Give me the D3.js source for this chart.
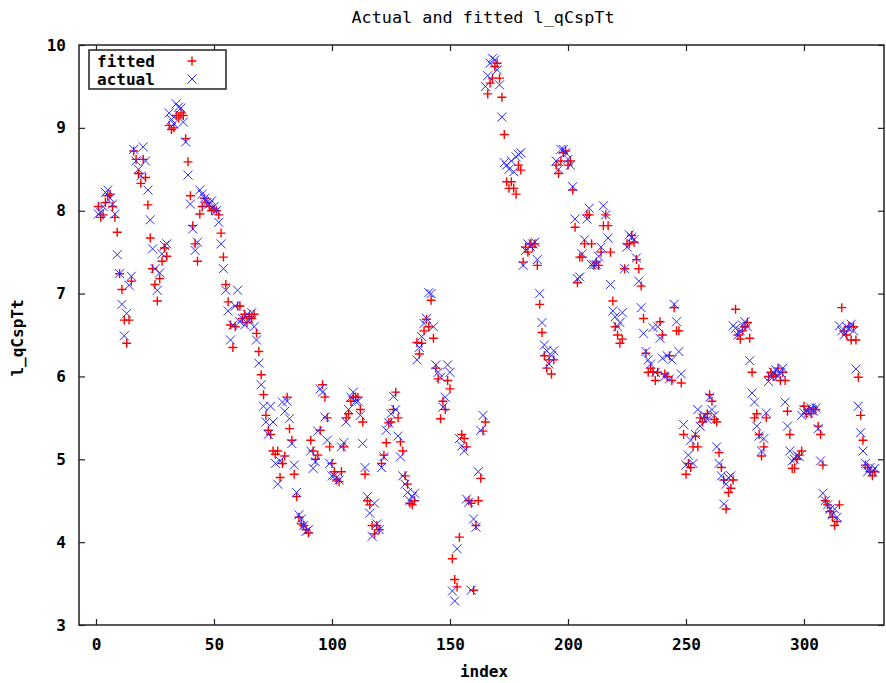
<!DOCTYPE html>
<html>
<head>
<meta charset="utf-8">
<script src="https://cdn.jsdelivr.net/npm/d3@7"></script>
<style>
  body { margin: 0; background: #fff; }
  text { font-family: "DejaVu Sans Mono", "Liberation Mono", monospace; }
</style>
</head>
<body>
<svg id="chart" width="886" height="683"></svg>
<script>
// values, index 1..330
const actual = [
  7.96, 7.98, 8.05, 8.22, 8.25, 8.15, 8.08, 7.96, 7.47, 7.24,
  6.87, 6.49, 6.76, 7.1, 7.21, 8.74, 8.6, 8.5, 8.42, 8.77,
  8.6, 8.25, 7.89, 7.54, 7.3, 7.04, 7.25, 7.48, 7.58, 7.6,
  9.18, 9.1, 9.05, 9.29, 9.25, 9.24, 9.07, 8.83, 8.43, 8.08,
  7.78, 7.52, 7.62, 8.25, 8.2, 8.15, 8.1, 8.08, 8.12, 8.05,
  8.0, 7.86, 7.6, 7.3, 7.04, 6.79, 6.44, 6.62, 6.85, 7.04,
  6.66, 6.7, 6.62, 6.75, 6.68, 6.77, 6.6, 6.44, 6.16, 5.9,
  5.64, 5.45, 5.3, 5.64, 5.45, 4.95, 4.7, 4.98, 5.69, 5.58,
  5.7, 5.49, 5.19, 4.93, 4.6, 4.33, 4.28, 4.2, 4.13, 4.15,
  5.1, 4.89, 4.97, 5.34, 5.85, 5.81, 5.51, 5.23, 4.95, 4.8,
  4.8, 4.78, 4.75, 5.15, 5.2, 5.45, 5.6, 5.75, 5.81, 5.7,
  5.7, 5.53, 5.19, 4.9, 4.55, 4.35, 4.07, 4.47, 4.22, 4.15,
  4.9, 5.03, 5.35, 5.44, 5.55, 5.76, 5.6, 5.28, 5.03, 4.8,
  4.7, 4.6, 4.5, 4.55, 4.59, 6.2, 6.35, 6.48, 6.64, 6.7,
  7.01, 7.0, 6.6, 6.14, 6.05, 5.99, 5.63, 5.75, 6.14, 6.05,
  3.41, 3.29, 3.92, 5.25, 5.16, 5.1, 4.52, 4.48, 3.42, 4.28,
  4.18, 4.85, 5.35, 5.53, 9.5, 9.63, 9.78, 9.84, 9.82, 9.7,
  9.52, 9.13, 8.58, 8.55, 8.5, 8.6, 8.47, 8.65, 8.68, 8.7,
  7.34, 7.52, 7.6, 7.57, 7.6, 7.62, 7.41, 7.0, 6.65, 6.38,
  6.31, 6.15, 6.25, 6.31, 8.6, 8.5, 8.74, 8.74, 8.7, 8.62,
  8.55, 8.29, 7.9, 7.18, 7.2, 7.48, 7.65, 7.9, 8.03, 7.35,
  7.35, 7.35, 7.45, 7.56, 8.06, 7.95, 7.67, 7.11, 6.79, 6.72,
  6.6, 6.65, 6.77, 7.3, 7.56, 7.71, 7.68, 7.65, 7.43, 7.15,
  6.83, 6.52, 6.3, 6.2, 6.15, 6.59, 6.05, 6.6, 6.46, 6.22,
  6.0, 6.25, 5.97, 6.2, 6.87, 6.66, 6.3, 6.03, 5.42, 4.93,
  5.05, 5.23, 4.95, 5.3, 5.6, 5.4, 5.5, 5.53, 5.48, 5.75,
  5.6, 5.53, 5.15, 4.95, 4.8, 4.46, 4.7, 4.78, 4.8, 6.61,
  6.58, 6.5, 6.55, 6.62, 6.66, 6.6, 6.19, 5.8, 5.69, 5.4,
  5.28, 5.1, 5.25, 5.56, 5.94, 6.0, 6.05, 6.08, 6.0, 6.05,
  6.1, 5.69, 5.4, 5.1, 4.98, 5.0, 5.05, 5.03, 5.53, 5.56,
  5.6, 5.56, 5.62, 5.58, 5.62, 5.37, 4.98, 4.59, 4.5, 4.45,
  4.4, 4.33, 4.4, 4.3, 6.61, 6.55, 6.5, 6.6, 6.58, 6.63,
  6.55, 6.09, 5.64, 5.32, 5.1, 4.95, 4.85, 4.9, 4.85, 4.89
];

const fitted = [
  8.05, 7.92, 7.95, 8.1, 8.18, 8.2, 8.05, 7.92, 7.74, 7.24,
  7.05, 6.68, 6.4, 6.68, 7.15, 8.72, 8.62, 8.45, 8.33, 8.62,
  8.4, 8.07, 7.67, 7.3, 7.11, 6.91, 7.18, 7.39, 7.55, 7.45,
  9.03, 8.98, 9.0, 9.15, 9.12, 9.18, 9.15, 8.87, 8.59, 8.18,
  7.82, 7.6, 7.39, 7.96, 8.05, 8.15, 8.1, 8.05, 8.0, 8.02,
  8.0, 7.95, 7.73, 7.44, 7.11, 6.9, 6.62, 6.35, 6.6, 6.85,
  6.85, 6.7, 6.75, 6.65, 6.72, 6.7, 6.75, 6.52, 6.3, 6.02,
  5.78, 5.53, 5.35, 5.3, 5.1, 5.06, 5.1, 4.78, 4.95, 5.04,
  5.75, 5.37, 5.23, 4.82, 4.55, 4.3, 4.22, 4.2, 4.15, 4.11,
  5.23, 5.1, 5.0, 5.05, 5.35, 5.9, 5.75, 5.5, 5.15, 4.95,
  4.85, 4.75, 4.73, 4.85, 5.15, 5.5, 5.55, 5.7, 5.75, 5.75,
  5.75, 5.6, 5.45, 4.82, 4.5, 4.45, 4.2, 4.1, 4.2, 4.15,
  4.95, 5.05, 5.2, 5.44, 5.45, 5.6, 5.81, 5.5, 5.21, 5.1,
  4.8, 4.7, 4.47, 4.45, 4.5, 6.41, 6.27, 6.4, 6.55, 6.69,
  6.6, 6.92, 6.46, 6.1, 5.97, 5.49, 5.7, 5.6, 5.95, 5.85,
  3.8, 3.55, 3.46, 4.06, 5.3, 5.25, 5.15, 4.5, 4.47, 3.42,
  4.2, 4.5, 4.77, 5.34, 5.45, 9.41, 9.54, 9.6, 9.74, 9.78,
  9.6, 9.37, 8.92, 8.35, 8.27, 8.35, 8.27, 8.2, 8.55, 8.49,
  7.38, 7.56, 7.5, 7.6, 7.56, 7.6, 7.34, 6.87, 6.53, 6.25,
  6.1, 6.2, 6.03, 6.2, 8.55, 8.45, 8.6, 8.7, 8.72, 8.55,
  8.6, 8.25, 7.8, 7.13, 7.44, 7.44, 7.6, 7.95, 7.95, 7.6,
  7.34, 7.38, 7.34, 7.5, 7.82, 7.95, 7.82, 7.5, 6.91, 6.6,
  6.5, 6.4, 6.45, 7.3, 7.6, 7.6, 7.7, 7.62, 7.41, 7.3,
  7.09, 6.7, 6.28, 6.05, 6.1, 6.05, 5.95, 6.05, 6.66, 6.5,
  6.03, 6.0, 6.25, 5.95, 6.83, 6.55, 6.55, 5.92, 5.3, 4.82,
  4.95, 4.9, 5.15, 5.28, 5.15, 5.5, 5.45, 5.5, 5.55, 5.78,
  5.7, 5.48, 5.45, 5.08, 4.9, 4.75, 4.4, 4.6, 4.65, 4.75,
  6.81, 6.5, 6.45, 6.55, 6.6, 6.65, 6.46, 6.05, 5.5, 5.55,
  5.3, 5.04, 5.15, 5.5, 6.0, 6.05, 6.0, 6.02, 6.1, 5.95,
  6.05, 5.95, 5.58, 5.3, 4.89, 4.89, 5.0, 5.05, 5.1, 5.64,
  5.55, 5.6, 5.55, 5.62, 5.6, 5.4, 5.3, 4.93, 4.5, 4.45,
  4.37, 4.3, 4.2, 4.25, 4.45, 6.83, 6.55, 6.5, 6.6, 6.44,
  6.6, 6.44, 5.99, 5.53, 5.23, 4.93, 4.9, 4.85, 4.8, 4.85
];

const xTicks = [0, 50, 100, 150, 200, 250, 300];
const yTicks = [3, 4, 5, 6, 7, 8, 9, 10];
const seriesNames = ["fitted", "actual"];

const svg = d3.select("#chart");
const frame = { left: 79, right: 884, top: 45, bottom: 625 };

const x = d3.scaleLinear().domain([-7.2, 333.9]).range([frame.left, frame.right]);
const y = d3.scaleLinear().domain([3, 10]).range([frame.bottom, frame.top]);

const plusPath = "M-4.5,0H4.5M0,-4.5V4.5";
const crossPath = "M-4.5,-4.5L4.5,4.5M-4.5,4.5L4.5,-4.5";

// axes, gnuplot style: inward ticks mirrored on all four sides
const styleAxis = g => {
  g.select(".domain").remove();
  g.selectAll(".tick line").attr("stroke", "#222").attr("stroke-width", 1.2);
  g.selectAll(".tick text")
    .attr("fill", "#000")
    .style("font-size", "16px")
    .style("font-weight", "bold");
};

svg.append("g")
  .attr("transform", "translate(0," + frame.bottom + ")")
  .call(d3.axisBottom(x).tickValues(xTicks).tickSize(-6).tickPadding(14).tickFormat(d3.format("d")))
  .call(styleAxis);

svg.append("g")
  .attr("transform", "translate(0," + frame.top + ")")
  .call(d3.axisTop(x).tickValues(xTicks).tickSize(-6).tickFormat(""))
  .call(styleAxis);

svg.append("g")
  .attr("transform", "translate(" + frame.left + ",0)")
  .call(d3.axisLeft(y).tickValues(yTicks).tickSize(-6).tickPadding(13).tickFormat(d3.format("d")))
  .call(styleAxis);

svg.append("g")
  .attr("transform", "translate(" + frame.right + ",0)")
  .call(d3.axisRight(y).tickValues(yTicks).tickSize(-6).tickFormat(""))
  .call(styleAxis);

svg.append("rect")
  .attr("x", frame.left)
  .attr("y", frame.top)
  .attr("width", frame.right - frame.left)
  .attr("height", frame.bottom - frame.top)
  .attr("fill", "none")
  .attr("stroke", "#222")
  .attr("stroke-width", 1.5);

// points
const plot = svg.append("g");

plot.append("g")
  .selectAll("path")
  .data(fitted)
  .enter()
  .append("path")
  .attr("d", plusPath)
  .attr("transform", (d, i) => "translate(" + x(i + 1) + "," + y(d) + ")")
  .attr("stroke", "#ff0000")
  .attr("stroke-width", 1.4)
  .attr("fill", "none");

plot.append("g")
  .selectAll("path")
  .data(actual)
  .enter()
  .append("path")
  .attr("d", crossPath)
  .attr("transform", (d, i) => "translate(" + x(i + 1) + "," + y(d) + ")")
  .attr("stroke", "#2a2aff")
  .attr("stroke-width", 1)
  .attr("fill", "none");

// titles
svg.append("text")
  .attr("x", 483)
  .attr("y", 23)
  .attr("text-anchor", "middle")
  .attr("textLength", 263)
  .attr("lengthAdjust", "spacingAndGlyphs")
  .style("font-size", "16px")
  .text("Actual and fitted l_qCspTt");

svg.append("text")
  .attr("x", 484)
  .attr("y", 677)
  .attr("text-anchor", "middle")
  .style("font-size", "16px")
  .style("font-weight", "bold")
  .text("index");

svg.append("text")
  .attr("transform", "translate(23,338) rotate(-90)")
  .attr("text-anchor", "middle")
  .style("font-size", "16px")
  .style("font-weight", "bold")
  .text("l_qCspTt");

// legend
const legend = svg.append("g");
legend.append("rect")
  .attr("x", 89)
  .attr("y", 50)
  .attr("width", 137)
  .attr("height", 39)
  .attr("fill", "#fff")
  .attr("stroke", "#222")
  .attr("stroke-width", 1.5);

seriesNames.forEach((name, i) => {
  const cy = 61 + i * 18;
  legend.append("text")
    .attr("x", 97)
    .attr("y", cy + 5.5)
    .style("font-size", "16px")
    .style("font-weight", "bold")
    .text(name);
  legend.append("path")
    .attr("d", i == 0 ? plusPath : crossPath)
    .attr("transform", "translate(192," + cy + ")")
    .attr("stroke", i == 0 ? "#ff0000" : "#2a2aff")
    .attr("stroke-width", i == 0 ? 1.4 : 1)
    .attr("fill", "none");
});
</script>
</body>
</html>
